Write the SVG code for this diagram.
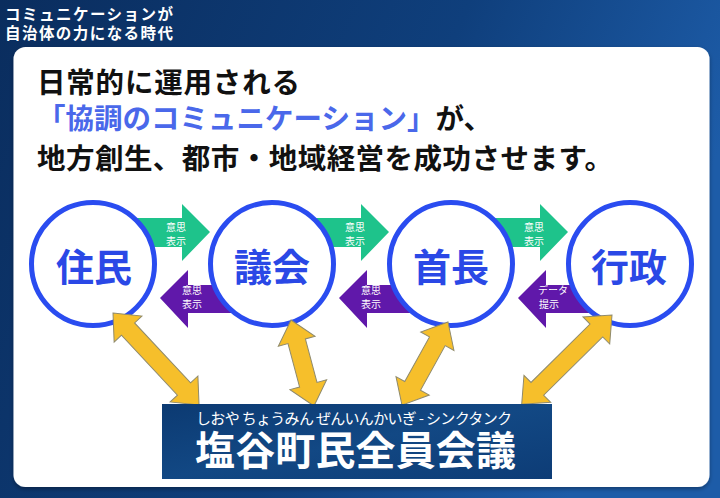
<svg xmlns="http://www.w3.org/2000/svg" width="720" height="498" viewBox="0 0 720 498">
<defs>
<linearGradient id="bg" x1="0" y1="0" x2="1" y2="0.3">
<stop offset="0" stop-color="#0a2d5e"/>
<stop offset="0.6" stop-color="#0f3f7c"/>
<stop offset="1" stop-color="#1d5ca8"/>
</linearGradient>
<linearGradient id="boxg" x1="0" y1="0" x2="1" y2="1">
<stop offset="0" stop-color="#0c3a72"/>
<stop offset="0.5" stop-color="#124884"/>
<stop offset="1" stop-color="#0d3c76"/>
</linearGradient>
<filter id="sh" x="-5%" y="-5%" width="110%" height="110%">
<feDropShadow dx="0" dy="2" stdDeviation="2" flood-color="#000" flood-opacity="0.35"/>
</filter>
</defs>
<style>
text{font-family:"Noto Sans CJK JP","Noto Sans",sans-serif;}
.hdr{fill:#fff;font-size:15.5px;font-weight:700;}
.main{fill:#111;font-size:28.5px;font-weight:700;}
.blue{fill:#4a68ea;}
.circ{fill:#fff;stroke:#2a4cf0;stroke-width:5;}
.lbl{fill:#2a48e6;font-size:38px;font-weight:700;text-anchor:middle;}
.grn{fill:#1ec38b;}
.pur{fill:#6018aa;}
.small{fill:#fff;font-size:10px;text-anchor:middle;}
.yel{fill:#f6bf2b;stroke:#8f8a6c;stroke-width:1;}
</style>
<rect width="720" height="498" fill="url(#bg)"/>
<g id="header">
<text class="hdr" x="5" y="20" textLength="168" lengthAdjust="spacing">コミュニケーションが</text>
<text class="hdr" x="5" y="39" textLength="168" lengthAdjust="spacing">自治体の力になる時代</text>
</g>
<rect x="13.5" y="47" width="696" height="440" rx="12" fill="#fff" filter="url(#sh)"/>
<g id="title">
<text class="main" x="37" y="93" textLength="263" lengthAdjust="spacing">日常的に運用される</text>
<text class="main" x="37" y="129" textLength="455" lengthAdjust="spacing"><tspan class="blue">「協調のコミュニケーション」</tspan>が、</text>
<text class="main" x="37" y="169" textLength="576" lengthAdjust="spacing">地方創生、都市・地域経営を成功させます。</text>
</g>
<g id="connectors">
<path class="grn" d="M130,218 L182,218 L182,204 L210,232 L182,261 L182,247 L130,247 Z"/>
<path class="grn" d="M309,218 L361,218 L361,204 L389,232 L361,261 L361,247 L309,247 Z"/>
<path class="grn" d="M488,218 L540,218 L540,204 L568,232 L540,261 L540,247 L488,247 Z"/>
<path class="pur" d="M235,285 L188,285 L188,270 L160,298 L188,328 L188,313 L235,313 Z"/>
<path class="pur" d="M414,285 L367,285 L367,270 L339,298 L367,328 L367,313 L414,313 Z"/>
<path class="pur" d="M593,285 L546,285 L546,270 L518,298 L546,328 L546,313 L593,313 Z"/>
</g>
<g id="n-jumin"><circle class="circ" cx="93" cy="264" r="61.5"/><text class="lbl" x="94" y="281">住民</text></g>
<g id="n-gikai"><circle class="circ" cx="272" cy="264" r="61.5"/><text class="lbl" x="272" y="281">議会</text></g>
<g id="n-shucho"><circle class="circ" cx="451" cy="264" r="61.5"/><text class="lbl" x="451" y="281">首長</text></g>
<g id="n-gyosei"><circle class="circ" cx="630" cy="264" r="61.5"/><text class="lbl" x="629" y="281">行政</text></g>
<g id="connector-labels">
<text class="small" x="176" y="231">意思</text><text class="small" x="176" y="245">表示</text>
<text class="small" x="355" y="231">意思</text><text class="small" x="355" y="245">表示</text>
<text class="small" x="534" y="231">意思</text><text class="small" x="534" y="245">表示</text>
<text class="small" x="192" y="294">意思</text><text class="small" x="192" y="308">表示</text>
<text class="small" x="371" y="294">意思</text><text class="small" x="371" y="308">表示</text>
<text class="small" x="553" y="294">データ</text><text class="small" x="549" y="308">提示</text>
</g>
<g id="links">
<path class="yel" transform="translate(113,313) rotate(46.93)" d="M0,0 L22,-19 L22,-9 L104,-9 L104,-19 L126,0 L104,19 L104,9 L22,9 L22,19 Z"/>
<path class="yel" transform="translate(291,320) rotate(75.03)" d="M0,0 L22,-19 L22,-9 L67,-9 L67,-19 L89,0 L67,19 L67,9 L22,9 L22,19 Z"/>
<path class="yel" transform="translate(448,322) rotate(118.99)" d="M0,0 L22,-19 L22,-9 L73,-9 L73,-19 L95,0 L73,19 L73,9 L22,9 L22,19 Z"/>
<path class="yel" transform="translate(612,315) rotate(135.32)" d="M0,0 L22,-19 L22,-9 L105,-9 L105,-19 L127,0 L105,19 L105,9 L22,9 L22,19 Z"/>
</g>
<g id="n-kaigi">
<rect x="162" y="404" width="390" height="75" fill="url(#boxg)"/>
<text x="196" y="424" fill="#fff" font-size="15" textLength="316" lengthAdjust="spacing">しおや ちょうみん ぜんいんかいぎ - シンクタンク</text>
<text x="195" y="465" fill="#fff" font-size="40" font-weight="700" textLength="321" lengthAdjust="spacing">塩谷町民全員会議</text>
</g>
</svg>
